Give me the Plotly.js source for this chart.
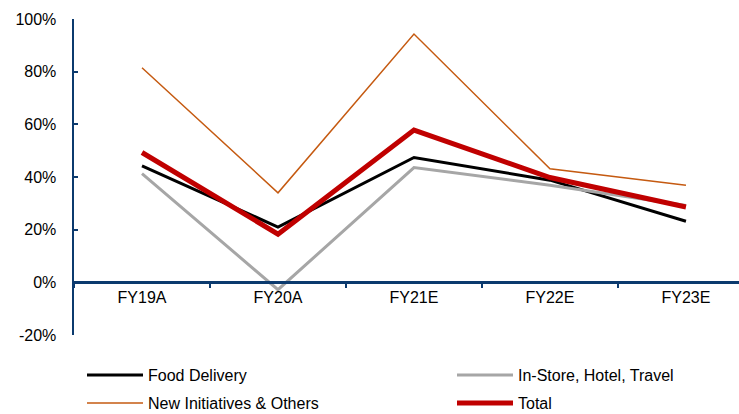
<!DOCTYPE html>
<html><head><meta charset="utf-8">
<script src="https://cdn.plot.ly/plotly-3.0.1.min.js"></script>
<style>html,body{margin:0;padding:0;background:#fff;}#chart{width:739px;height:414px;}</style>
</head><body><div id="chart"></div>
<script>
const categories = ["FY19A", "FY20A", "FY21E", "FY22E", "FY23E"];
const foodDelivery = [44.2, 21.0, 47.4, 38.8, 23.2];
const inStoreHotelTravel = [41.3, -2.8, 43.6, 36.9, 29.2];
const newInitiatives = [81.5, 34.0, 94.3, 43.1, 36.9];
const total = [49.3, 18.3, 57.8, 39.8, 28.6];
const yTicks = [-20, 0, 20, 40, 60, 80, 100];
const yTickLabels = ["-20%", "0%", "20%", "40%", "60%", "80%", "100%"];

const navy = "#0B3A6E";
const font = {family: "Liberation Sans, Arial, sans-serif", size: 16, color: "#000"};

const traces = [
  {name: "Food Delivery", x: categories, y: foodDelivery, type: "scatter", mode: "lines", line: {color: "#000000", width: 3}, legend: "legend"},
  {name: "In-Store, Hotel, Travel", x: categories, y: inStoreHotelTravel, type: "scatter", mode: "lines", line: {color: "#A6A6A6", width: 3}, legend: "legend2"},
  {name: "New Initiatives & Others", x: categories, y: newInitiatives, type: "scatter", mode: "lines", line: {color: "#C55A11", width: 1.5}, legend: "legend3"},
  {name: "Total", x: categories, y: total, type: "scatter", mode: "lines", line: {color: "#C00000", width: 5}, legend: "legend4"}
];

function legendAt(px, py) {
  return {
    orientation: "h", xref: "container", yref: "container",
    x: px / 739, y: 1 - py / 414, xanchor: "left", yanchor: "middle",
    itemwidth: 56, font: font, bgcolor: "rgba(0,0,0,0)"
  };
}

const layout = {
  width: 739, height: 414,
  margin: {l: 74, r: 0, t: 19, b: 79},
  paper_bgcolor: "#fff", plot_bgcolor: "#fff",
  font: font,
  showlegend: true,
  legend: legendAt(82, 375),
  legend2: legendAt(452, 375),
  legend3: legendAt(82, 403),
  legend4: legendAt(452, 403),
  xaxis: {
    type: "category", range: [-0.5, 4.39],
    anchor: "free", position: 20 / 120,
    showline: true, linecolor: navy, linewidth: 2.5,
    ticks: "outside", ticklen: 4, tickwidth: 2, tickcolor: navy,
    tickson: "boundaries",
    showgrid: false, zeroline: false,
    tickfont: font, fixedrange: true
  },
  yaxis: {
    range: [-20, 100],
    tickvals: yTicks, ticktext: yTickLabels,
    showline: true, linecolor: navy, linewidth: 2.5,
    ticks: "inside", ticklen: 4, tickwidth: 2, tickcolor: navy,
    showgrid: false, zeroline: false,
    tickfont: font, ticklabelstandoff: 12, fixedrange: true
  }
};

Plotly.newPlot("chart", traces, layout, {displayModeBar: false, staticPlot: true});
</script>
</body></html>
